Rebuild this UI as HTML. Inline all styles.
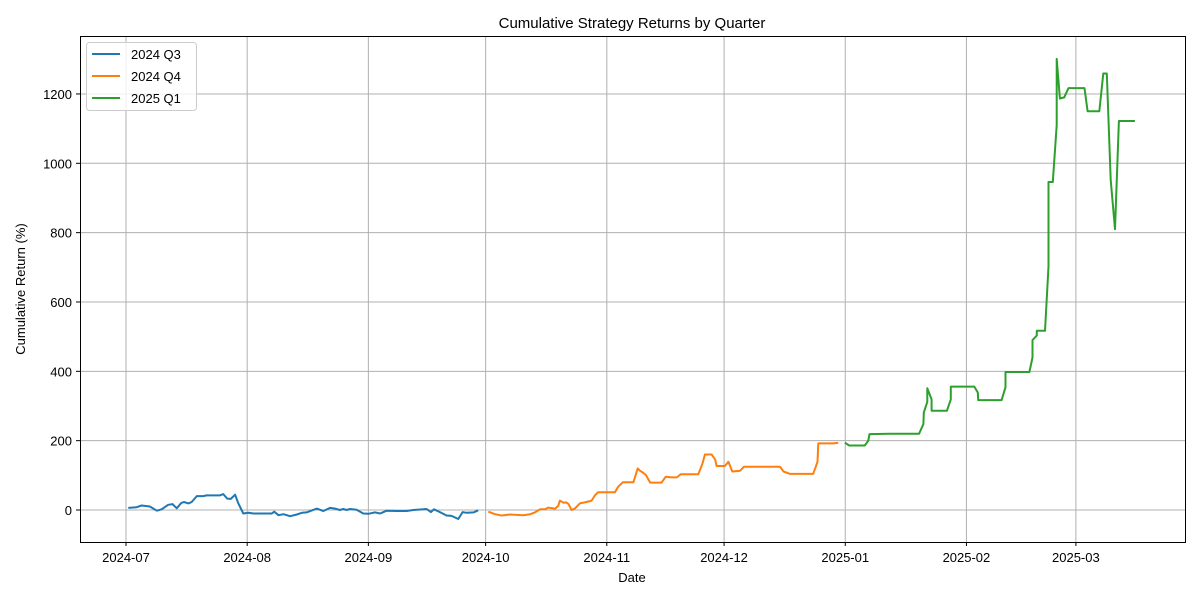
<!DOCTYPE html>
<html><head><meta charset="utf-8"><style>
body{margin:0;background:#fff;}
svg text{font-family:"Liberation Sans","DejaVu Sans",sans-serif;}
</style></head><body>
<svg id="chart" width="1200" height="600" viewBox="0 0 1200 600" xmlns="http://www.w3.org/2000/svg">
<rect width="1200" height="600" fill="#fff"/>
<text x="632" y="28" font-size="15" text-anchor="middle">Cumulative Strategy Returns by Quarter</text>
<g id="grid"></g><g id="series"></g><g id="axes"></g>
<rect x="80.5" y="36.5" width="1105" height="506" fill="none" stroke="#000" stroke-width="1"/>
<text x="632" y="582" font-size="13" text-anchor="middle">Date</text>
<text x="25" y="289" font-size="13" text-anchor="middle" transform="rotate(-90 25 289)">Cumulative Return (%)</text>
<g>
<rect x="86.5" y="42.5" width="110" height="68" rx="3" fill="#fff" fill-opacity="0.8" stroke="#ccc"/>
<line x1="92" y1="54" x2="120" y2="54" stroke="#1f77b4" stroke-width="2"/><text x="131" y="59" font-size="13">2024 Q3</text>
<line x1="92" y1="76" x2="120" y2="76" stroke="#ff7f0e" stroke-width="2"/><text x="131" y="81" font-size="13">2024 Q4</text>
<line x1="92" y1="98" x2="120" y2="98" stroke="#2ca02c" stroke-width="2"/><text x="131" y="103" font-size="13">2025 Q1</text>
</g>
</svg>
<script>
// days since 2024-07-01
const q3Days=[0.6,2.7,4.0,6.1,7.9,9.1,10.8,11.9,13.0,14.1,14.8,16.0,16.8,18.1,19.8,20.6,24.0,24.9,25.9,26.8,27.9,28.7,30.0,31.3,32.6,37.3,37.9,39.0,40.3,42.0,43.7,45.0,46.2,48.8,50.5,52.2,53.5,54.7,55.6,56.4,57.3,59.0,60.7,62.0,63.7,65.0,66.7,69.2,71.8,73.5,76.1,76.9,78.0,78.8,80.3,82.0,83.3,85.0,86.1,87.1,88.9,90.1];
const q3Vals=[6,8,13,10,-2,2,15,17,5,20,23,19,23,40,40,42,42,46,33,32,44,20,-10,-8,-10,-10,-5,-15,-12,-18,-13,-8,-7,4,-3,6,4,0,3,0,3,1,-10,-11,-7,-10,-2,-3,-3,0,2,3,-6,2,-6,-16,-17,-26,-6,-8,-7,-1];
const q4Days=[92.7,94.4,96.1,98.2,101.6,103.4,104.6,105.9,107.2,108.0,109.8,110.6,111.0,111.9,112.6,113.2,114.0,114.9,116.1,117.8,119.1,120.0,120.8,125.1,125.9,127.1,129.8,130.9,131.5,132.1,133.0,134.1,137.0,138.1,139.6,140.9,141.9,146.4,147.5,148.1,149.8,150.7,151.1,153.2,154.1,155.1,157.1,158.1,167.3,168.2,169.9,175.8,176.9,177.1,181.0,182.2];
const q4Vals=[-5,-12,-16,-13,-15,-12,-7,2,2,7,4,12,27,21,22,17,0,5,19,23,27,43,51,51,67,80,80,120,113,109,101,79,79,96,94,94,103,103,135,160,160,146,127,127,139,111,113,125,125,111,104,104,139,192,192,194];
const q1Days=[183.9,185.0,189.0,189.9,190.2,197.1,202.9,204.0,204.1,205.0,205.0,206.1,206.1,210.0,211.0,211.0,217.0,217.9,218.0,224.0,225.0,225.0,231.1,231.9,231.9,233.0,233.0,235.1,236.0,236.0,237.1,238.1,238.1,238.9,240.0,241.1,245.2,246.0,249.0,250.0,250.9,251.9,253.0,254.0,258.1];
const q1Vals=[194,186,186,200,219,220,220,248,281,312,351,319,286,286,319,356,356,339,317,317,354,398,398,440,490,503,517,517,702,946,946,1110,1301,1187,1190,1217,1217,1150,1150,1259,1259,952,810,1122,1122];
const xTickDays=[0,31,62,92,123,153,184,215,243];
const xTickLabels=["2024-07","2024-08","2024-09","2024-10","2024-11","2024-12","2025-01","2025-02","2025-03"];
const yTicks=[0,200,400,600,800,1000,1200];

const NS="http://www.w3.org/2000/svg";
const X=d=>126+d*3.909;
const Y=v=>510-v*0.3467;
function mk(tag,attrs,parent){const e=document.createElementNS(NS,tag);for(const k in attrs)e.setAttribute(k,attrs[k]);parent.appendChild(e);return e;}
const grid=document.getElementById('grid'),axes=document.getElementById('axes'),ser=document.getElementById('series');
xTickDays.forEach((d,i)=>{
  const x=X(d);
  const g=mk('line',{x1:x,y1:36,x2:x,y2:542,stroke:'#b0b0b0','stroke-width':1},grid);
  
  
  mk('line',{x1:x,y1:542,x2:x,y2:546,stroke:'#000'},axes);
  const t=mk('text',{x:x,y:562,'font-size':13,'text-anchor':'middle'},axes);
  t.textContent=xTickLabels[i];
  
  
});
yTicks.forEach(v=>{
  const y=Y(v);
  const g=mk('line',{x1:80,y1:y,x2:1185,y2:y,stroke:'#b0b0b0','stroke-width':1},grid);
  
  
  mk('line',{x1:76,y1:y,x2:80,y2:y,stroke:'#000'},axes);
  const t=mk('text',{x:72,y:y+5,'font-size':13,'text-anchor':'end'},axes);
  t.textContent=String(v);
  
  
});
[[q3Days,q3Vals,'#1f77b4','series-2024-q3'],[q4Days,q4Vals,'#ff7f0e','series-2024-q4'],[q1Days,q1Vals,'#2ca02c','series-2025-q1']].forEach(s=>{
  const pts=s[0].map((d,i)=>X(d).toFixed(1)+','+Y(s[1][i]).toFixed(1)).join(' ');
  const p=mk('polyline',{points:pts,fill:'none',stroke:s[2],'stroke-width':2,'stroke-linejoin':'round'},ser);
  
  
});
</script>
</body></html>
